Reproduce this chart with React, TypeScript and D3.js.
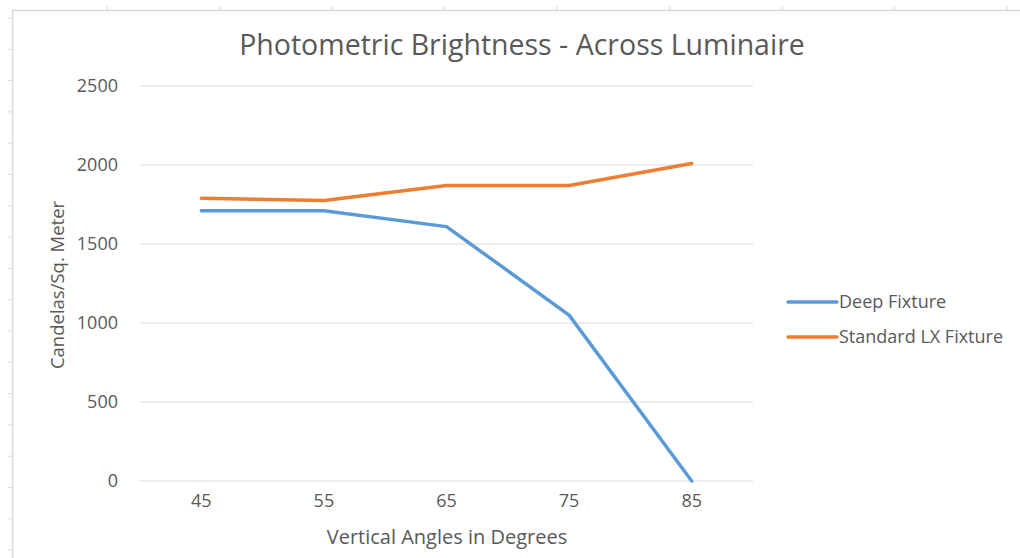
import { useEffect, useRef } from 'react';
import * as d3 from 'd3';

const angles = ['45', '55', '65', '75', '85'];
const deepFixture = [1710, 1710, 1610, 1050, 0];
const standardFixture = [1790, 1775, 1870, 1870, 2010];
const yTicks = [0, 500, 1000, 1500, 2000, 2500];
const seriesNames = ['Deep Fixture', 'Standard LX Fixture'];
const seriesColors = ['#5B9BD5', '#ED7D31'];

const width = 1020;
const height = 558;
const font = '"Open Sans", "Noto Sans", sans-serif';
const textColor = '#595959';

const App = () => {
  const svgRef = useRef<SVGSVGElement>(null);

  useEffect(() => {
    if (!svgRef.current) return;
    const svg = d3.select(svgRef.current);
    svg.selectAll('*').remove();

    // Sheet frame with small cell marks
    const frame = svg.append('g').attr('stroke', '#d9d9d9').attr('stroke-width', 1.5);
    frame.append('line').attr('x1', 12).attr('x2', width).attr('y1', 10.5).attr('y2', 10.5);
    frame.append('line').attr('x1', 12.5).attr('x2', 12.5).attr('y1', 10).attr('y2', height);
    d3.range(107, width, 112.5).forEach(x => {
      frame.append('line').attr('x1', x).attr('x2', x).attr('y1', 6).attr('y2', 10).attr('stroke-width', 1);
    });
    d3.range(18, height, 31.3).forEach(y => {
      frame.append('line').attr('x1', 8).attr('x2', 12).attr('y1', y).attr('y2', y).attr('stroke-width', 1);
    });

    const margin = { left: 140, right: 267, top: 86, bottom: 77 };
    const innerW = width - margin.left - margin.right;
    const innerH = height - margin.top - margin.bottom;

    const g = svg.append('g').attr('transform', `translate(${margin.left},${margin.top})`);

    const x = d3.scaleBand().domain(angles).range([0, innerW]).padding(0);
    const y = d3.scaleLinear().domain([0, 2500]).range([innerH, 0]);

    // Gridlines
    g.append('g')
      .selectAll('line')
      .data(yTicks)
      .join('line')
      .attr('x1', 0)
      .attr('x2', innerW)
      .attr('y1', d => y(d))
      .attr('y2', d => y(d))
      .attr('stroke', '#d9d9d9')
      .attr('stroke-width', 1);

    // Y axis labels
    const yAxis = g.append('g')
      .call(d3.axisLeft(y).tickValues(yTicks).tickFormat(d3.format('d')).tickSize(0).tickPadding(22));
    yAxis.select('.domain').remove();
    yAxis.selectAll('text')
      .style('font-family', font)
      .style('font-size', '18px')
      .style('fill', textColor);

    // X axis labels
    const xAxis = g.append('g')
      .attr('transform', `translate(0,${innerH})`)
      .call(d3.axisBottom(x).tickSize(0).tickPadding(13));
    xAxis.select('.domain').remove();
    xAxis.selectAll('text')
      .style('font-family', font)
      .style('font-size', '18px')
      .style('fill', textColor);

    // Lines
    const line = d3.line<number>()
      .x((_, i) => (x(angles[i]) || 0) + x.bandwidth() / 2)
      .y(d => y(d));

    [deepFixture, standardFixture].forEach((values, i) => {
      g.append('path')
        .datum(values)
        .attr('fill', 'none')
        .attr('stroke', seriesColors[i])
        .attr('stroke-width', 3.5)
        .attr('stroke-linejoin', 'round')
        .attr('stroke-linecap', 'round')
        .attr('d', line);
    });

    // Title
    svg.append('text')
      .attr('x', 522)
      .attr('y', 55)
      .attr('text-anchor', 'middle')
      .style('font-family', font)
      .style('font-size', '28.5px')
      .style('fill', textColor)
      .text('Photometric Brightness - Across Luminaire');

    // Axis titles
    svg.append('text')
      .attr('x', 447)
      .attr('y', 544)
      .attr('text-anchor', 'middle')
      .style('font-family', font)
      .style('font-size', '20px')
      .style('fill', textColor)
      .text('Vertical Angles in Degrees');

    svg.append('text')
      .attr('transform', `translate(64,285) rotate(-90)`)
      .attr('text-anchor', 'middle')
      .style('font-family', font)
      .style('font-size', '18.5px')
      .style('fill', textColor)
      .text('Candelas/Sq. Meter');

    // Legend
    const legend = svg.append('g').attr('transform', 'translate(788,302)');
    seriesNames.forEach((name, i) => {
      const row = legend.append('g').attr('transform', `translate(0,${i * 35})`);
      row.append('line')
        .attr('x1', 0)
        .attr('x2', 49)
        .attr('y1', 0)
        .attr('y2', 0)
        .attr('stroke', seriesColors[i])
        .attr('stroke-width', 3.5)
        .attr('stroke-linecap', 'round');
      row.append('text')
        .attr('x', 51)
        .attr('y', 0)
        .attr('dy', '0.35em')
        .style('font-family', font)
        .style('font-size', '18px')
        .style('fill', textColor)
        .text(name);
    });
  }, []);

  return (
    <svg
      ref={svgRef}
      width={width}
      height={height}
      style={{ position: 'absolute', left: 0, top: 0, background: '#ffffff' }}
    />
  );
};

export default App;
